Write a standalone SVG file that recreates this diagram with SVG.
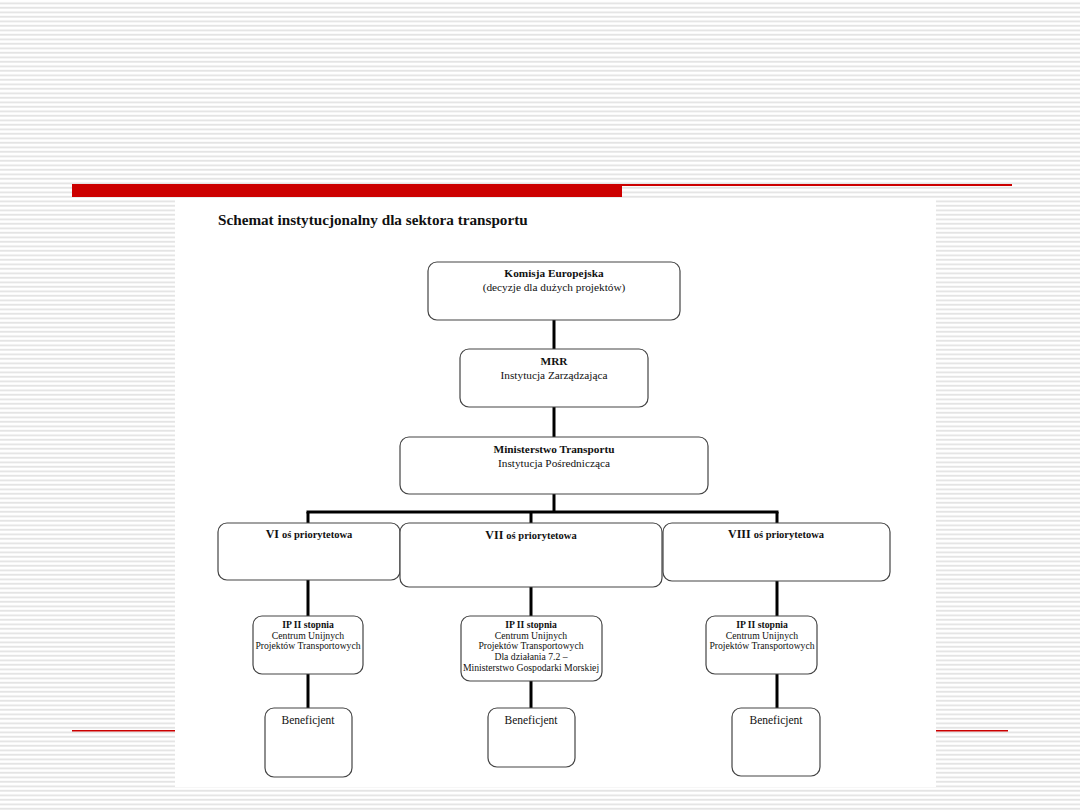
<svg xmlns="http://www.w3.org/2000/svg" width="1080" height="810" viewBox="0 0 1080 810">
<defs>
<pattern id="stripes" x="0" y="0" width="10" height="4.5" patternUnits="userSpaceOnUse">
<rect x="0" y="0" width="10" height="4.5" fill="#ffffff"/>
<rect x="0" y="2.5" width="10" height="1.6" fill="#e0e0e0"/>
</pattern>
<style>
.box{fill:#ffffff;stroke:#444444;stroke-width:1.2}
.conn{stroke:#000000;stroke-width:3;fill:none}
.t{font-family:"Liberation Serif","Times New Roman",serif;fill:#111111;text-anchor:middle}
.b{font-weight:bold}
.s10{font-size:11.3px}
.s9{font-size:9.7px}
.sb{font-size:11.5px}
</style>
</defs>
<rect x="0" y="0" width="1080" height="810" fill="url(#stripes)"/>
<rect x="72" y="184" width="550" height="13" fill="#cc0000"/>
<rect x="622" y="184" width="390" height="2" fill="#cc0000"/>
<rect x="72" y="730" width="103" height="1.5" fill="#cc0000"/>
<rect x="935" y="730" width="73" height="1.5" fill="#cc0000"/>
<rect x="175" y="199" width="761" height="588" fill="#ffffff"/>
<text x="218" y="225" font-family="Liberation Serif, serif" font-weight="bold" font-size="15.2" fill="#111">Schemat instytucjonalny dla sektora transportu</text>

<g id="connectors">
<line class="conn" x1="554" y1="320" x2="554" y2="349"/>
<line class="conn" x1="554" y1="407" x2="554" y2="437"/>
<line class="conn" x1="554" y1="494" x2="554" y2="512"/>
<line class="conn" x1="306.5" y1="512" x2="778.5" y2="512"/>
<line class="conn" x1="308" y1="512" x2="308" y2="523"/>
<line class="conn" x1="531" y1="512" x2="531" y2="523"/>
<line class="conn" x1="777" y1="512" x2="777" y2="523"/>
<line class="conn" x1="308" y1="580" x2="308" y2="616"/>
<line class="conn" x1="531" y1="587" x2="531" y2="616"/>
<line class="conn" x1="777" y1="581" x2="777" y2="616"/>
<line class="conn" x1="308" y1="674" x2="308" y2="708"/>
<line class="conn" x1="531" y1="681" x2="531" y2="708"/>
<line class="conn" x1="777" y1="674" x2="777" y2="708"/>
</g>

<g id="komisja">
<rect class="box" x="428" y="262" width="252" height="58" rx="9"/>
<text class="t b s10" x="554" y="277">Komisja Europejska</text>
<text class="t s10" x="554" y="291">(decyzje dla dużych projektów)</text>
</g>
<g id="mrr">
<rect class="box" x="460" y="349" width="188" height="58" rx="9"/>
<text class="t b s10" x="554" y="365">MRR</text>
<text class="t s10" x="554" y="379">Instytucja Zarządzająca</text>
</g>
<g id="ministerstwo">
<rect class="box" x="400" y="437" width="308" height="57" rx="9"/>
<text class="t b s10" x="554" y="453">Ministerstwo Transportu</text>
<text class="t s10" x="554" y="467">Instytucja Pośrednicząca</text>
</g>
<g id="os6">
<rect class="box" x="218" y="523" width="182" height="57" rx="9"/>
<text class="t b" font-size="12" x="309" y="538">VI <tspan font-size="10.5">oś priorytetowa</tspan></text>
</g>
<g id="os7">
<rect class="box" x="400" y="523" width="262" height="64" rx="9"/>
<text class="t b" font-size="12" x="531" y="539">VII <tspan font-size="10.5">oś priorytetowa</tspan></text>
</g>
<g id="os8">
<rect class="box" x="663" y="523" width="227" height="58" rx="9"/>
<text class="t b" font-size="12" x="776" y="538">VIII <tspan font-size="10.5">oś priorytetowa</tspan></text>
</g>
<g id="ip1">
<rect class="box" x="253" y="616" width="110" height="58" rx="9"/>
<text class="t s9 b" x="308" y="628">IP II stopnia</text>
<text class="t s9" x="308" y="639">Centrum Unijnych</text>
<text class="t s9" x="308" y="649">Projektów Transportowych</text>
</g>
<g id="ip2">
<rect class="box" x="461" y="616" width="141" height="65" rx="9"/>
<text class="t s9 b" x="531" y="628">IP II stopnia</text>
<text class="t s9" x="531" y="639">Centrum Unijnych</text>
<text class="t s9" x="531" y="649">Projektów Transportowych</text>
<text class="t s9" x="531" y="660">Dla działania 7.2 –</text>
<text class="t s9" x="531" y="671">Ministerstwo Gospodarki Morskiej</text>
</g>
<g id="ip3">
<rect class="box" x="706" y="616" width="111" height="58" rx="9"/>
<text class="t s9 b" x="762" y="628">IP II stopnia</text>
<text class="t s9" x="762" y="639">Centrum Unijnych</text>
<text class="t s9" x="762" y="649">Projektów Transportowych</text>
</g>
<g id="ben1">
<rect class="box" x="265" y="708" width="87" height="69" rx="9"/>
<text class="t sb" x="308" y="724">Beneficjent</text>
</g>
<g id="ben2">
<rect class="box" x="488" y="708" width="87" height="59" rx="9"/>
<text class="t sb" x="531" y="724">Beneficjent</text>
</g>
<g id="ben3">
<rect class="box" x="732" y="708" width="88" height="68" rx="9"/>
<text class="t sb" x="776" y="724">Beneficjent</text>
</g>
</svg>
